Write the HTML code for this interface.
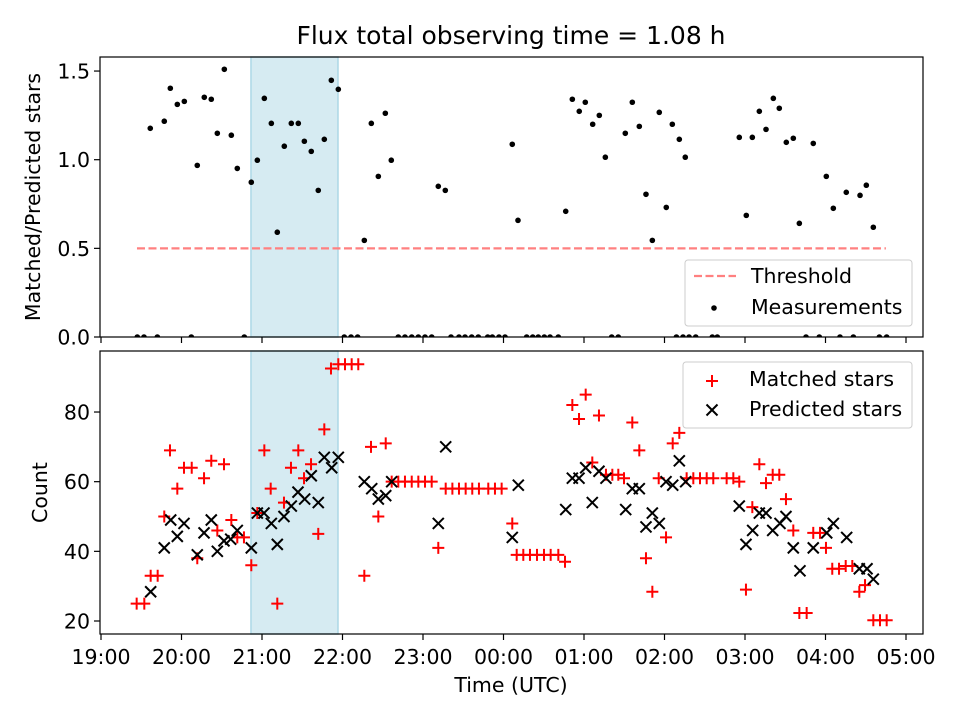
<!DOCTYPE html>
<html><head><meta charset="utf-8"><style>
body{margin:0;background:#fff;}
svg{display:block;font-family:"DejaVu Sans","Liberation Sans",sans-serif;}
</style></head><body>
<svg id="chart" width="960" height="720" viewBox="0 0 960 720" xmlns="http://www.w3.org/2000/svg">
<defs>
<clipPath id="clipTop"><rect x="100" y="57" width="823" height="280"/></clipPath>
<clipPath id="clipBot"><rect x="100" y="351" width="823" height="283"/></clipPath>
</defs>
<rect width="960" height="720" fill="#fff"/>
<text x="511" y="44" font-size="25" text-anchor="middle">Flux total observing time = 1.08 h</text>
<g id="topPanel"></g>
<g id="botPanel"></g>
</svg>
<script>
// hours since 19:00 UTC
const xTickLabels = ["19:00","20:00","21:00","22:00","23:00","00:00","01:00","02:00","03:00","04:00","05:00"];
const topTicks = [0,0.5,1.0,1.5];
const topTickLabels = ["0.0","0.5","1.0","1.5"];
const botTicks = [20,40,60,80];
const shadeSpan = [1.863,2.944];
const thresholdValue = 0.5;
const thresholdSpan = [0.447,9.75];
const ratioTimes = [0.612,0.786,0.861,0.948,1.035,1.196,1.283,1.370,1.445,1.532,1.619,1.693,1.867,1.942,2.029,2.116,2.190,2.277,2.364,2.451,2.526,2.612,2.699,2.774,2.861,2.948,3.271,3.358,3.445,3.532,3.606,4.190,4.277,5.109,5.180,5.773,5.855,5.941,6.016,6.108,6.190,6.265,6.513,6.600,6.687,6.770,6.849,6.935,7.022,7.097,7.184,7.258,7.929,8.016,8.091,8.178,8.261,8.352,8.426,8.513,8.600,8.675,8.848,9.010,9.097,9.258,9.429,9.507,9.594];
const ratioValues = [1.177,1.217,1.403,1.312,1.329,0.968,1.352,1.341,1.149,1.51,1.138,0.951,0.873,0.997,1.346,1.205,0.591,1.076,1.205,1.205,1.104,1.047,0.827,1.115,1.448,1.397,0.545,1.205,0.906,1.262,0.997,0.85,0.827,1.087,0.658,0.709,1.341,1.273,1.324,1.2,1.25,1.014,1.149,1.324,1.188,0.805,0.545,1.267,0.731,1.2,1.115,1.014,1.126,0.686,1.126,1.273,1.171,1.346,1.29,1.098,1.121,0.641,1.092,0.906,0.726,0.816,0.799,0.856,0.619];
const zeroTimes = [0.451,0.534,0.700,1.122,1.780,3.022,3.106,3.188,3.693,3.776,3.860,3.942,4.025,4.108,4.348,4.447,4.522,4.605,4.687,4.804,4.861,4.944,5.019,5.288,5.363,5.432,5.507,5.578,5.681,6.344,6.426,7.148,7.230,7.305,7.388,7.594,7.656,8.758,8.923,9.180,9.346,9.669,9.760];
const matchedTimes = [0.443,0.538,0.617,0.704,0.786,0.857,0.948,1.031,1.127,1.196,1.280,1.370,1.445,1.528,1.619,1.693,1.776,1.867,1.942,2.029,2.108,2.190,2.273,2.360,2.451,2.522,2.609,2.699,2.774,2.857,2.948,3.031,3.114,3.196,3.271,3.354,3.445,3.537,3.611,3.693,3.776,3.860,3.942,4.025,4.108,4.190,4.282,4.365,4.447,4.530,4.612,4.695,4.811,4.894,4.977,5.109,5.164,5.246,5.329,5.416,5.503,5.586,5.681,5.764,5.855,5.938,6.021,6.103,6.186,6.273,6.352,6.426,6.497,6.600,6.687,6.770,6.849,6.928,7.019,7.102,7.184,7.275,7.358,7.441,7.524,7.606,7.772,7.855,7.929,8.012,8.091,8.178,8.261,8.344,8.426,8.509,8.600,8.675,8.766,8.848,8.932,9.006,9.084,9.168,9.251,9.333,9.420,9.491,9.594,9.677,9.760];
const matchedValues = [25,25,33,33,50,69,58,64,64,38,61,66,46,65,49,44,44,36,51,69,58,25,54,64,69,61,65,45,75,92.5,93.7,93.7,93.7,93.7,33,70,50,71,60,60,60,60,60,60,60,41,58,58,58,58,58,58,58,58,58,48,39,39,39,39,39,39,39,37,82,78,85,65.5,79,62,62,62,61,77,69,38,28.4,61,44,71,74,61,61,61,61,61,61,61,60,29,52.7,65,59.6,62,62,55,46,22.3,22.3,45.3,45.3,41,35,35,35.8,35.8,28.4,30.3,20.2,20.2,20.2];
const predictedTimes = [0.617,0.786,0.866,0.948,1.031,1.196,1.280,1.370,1.445,1.528,1.611,1.693,1.867,1.942,2.025,2.116,2.190,2.273,2.364,2.447,2.530,2.612,2.699,2.774,2.866,2.948,3.271,3.363,3.445,3.537,3.611,4.190,4.282,5.109,5.184,5.773,5.855,5.938,6.021,6.103,6.186,6.273,6.518,6.600,6.687,6.770,6.849,6.935,7.019,7.102,7.184,7.263,7.929,8.012,8.095,8.178,8.261,8.344,8.435,8.509,8.600,8.683,8.848,9.015,9.098,9.263,9.420,9.516,9.594];
const predictedValues = [28.4,41,49,44.3,48,39,45.3,49,40,43,43.5,46,41,51,51,48,42,50,53,57,55,61.7,54,67,64,67,60,58,55,56,60,48,70,44,59,52,61,61,64,54,63,61,52,58,58,47,51,48,60,59,66,60,53,42,46,51,51,46,48,50,41,34.4,41,45.3,48,44,35,35,32];

const NS="http://www.w3.org/2000/svg";
const AX_L=100,AX_R=923;
const FS=20.5;
const xs=h=>101+h*80.5;
const yTop=v=>337-v*177.3;
const yBot=v=>621-(v-20)*3.483;
function mk(tag,attrs,parent){const e=document.createElementNS(NS,tag);for(const k in attrs)e.setAttribute(k,attrs[k]);parent.appendChild(e);return e;}
const topG=document.getElementById('topPanel'), botG=document.getElementById('botPanel');

function panel(g,y0,y1,clip,yFn,ticks,labels,title,labelX,titleX){
  const sh=mk('rect',{x:xs(shadeSpan[0]),y:y0,width:xs(shadeSpan[1])-xs(shadeSpan[0]),height:y1-y0,fill:'#add8e6','fill-opacity':0.5,stroke:'#add8e6','stroke-width':1.5},g);
  
  
  const marks=mk('g',{'clip-path':'url(#'+clip+')'},g);
  
  
  const frame=mk('rect',{x:AX_L,y:y0,width:AX_R-AX_L,height:y1-y0,fill:'none',stroke:'#000','stroke-width':1.2},g);
  
  
  xTickLabels.forEach((lab,i)=>{
    const x=xs(i);
    const t=mk('line',{x1:x,x2:x,y1:y1,y2:y1+6,stroke:'#000','stroke-width':1.2},g);
    
    
    if(labelX){const tx=mk('text',{x:x,y:y1+30,'font-size':FS,'text-anchor':'middle'},g);tx.textContent=lab;
      
      }
  });
  ticks.forEach((v,i)=>{
    const y=yFn(v);
    const t=mk('line',{x1:AX_L-6,x2:AX_L,y1:y,y2:y,stroke:'#000','stroke-width':1.2},g);
    
    
    const tx=mk('text',{x:AX_L-10,y:y+7.5,'font-size':FS,'text-anchor':'end'},g);tx.textContent=labels[i];
    
    
  });
  const cy=(y0+y1)/2;
  const yt=mk('text',{x:0,y:0,'font-size':FS,'text-anchor':'middle',transform:`translate(${titleX},${cy}) rotate(-90)`},g);
  yt.textContent=title;
  
  
  return marks;
}
const mt=panel(topG,57,337,'clipTop',yTop,topTicks,topTickLabels,'Matched/Predicted stars',false,40);
const mb=panel(botG,351,634,'clipBot',yBot,botTicks,botTicks.map(String),'Count',true,47);

const th=mk('line',{x1:xs(thresholdSpan[0]),x2:xs(thresholdSpan[1]),y1:yTop(thresholdValue),y2:yTop(thresholdValue),stroke:'#ff8080','stroke-width':2.2,'stroke-dasharray':'8,3.5'},mt);


ratioTimes.forEach((h,i)=>{const c=mk('circle',{cx:xs(h),cy:yTop(ratioValues[i]),r:2.8,fill:'#000'},mt);
  
  });
zeroTimes.forEach(h=>{const c=mk('circle',{cx:xs(h),cy:yTop(0),r:2.8,fill:'#000'},mt);
  
  });

function plus(g,x,y,s){return mk('path',{d:`M${x-s},${y}H${x+s}M${x},${y-s}V${y+s}`,stroke:'#ff0000','stroke-width':2,fill:'none'},g);}
function cross(g,x,y,s){return mk('path',{d:`M${x-s},${y-s}L${x+s},${y+s}M${x-s},${y+s}L${x+s},${y-s}`,stroke:'#000','stroke-width':2,fill:'none'},g);}
matchedTimes.forEach((h,i)=>{const p=plus(mb,xs(h),yBot(matchedValues[i]),6);
  
  });
predictedTimes.forEach((h,i)=>{const p=cross(mb,xs(h),yBot(predictedValues[i]),5.5);
  
  });

const xt=mk('text',{x:511,y:692,'font-size':FS,'text-anchor':'middle'},botG);xt.textContent='Time (UTC)';



const lg1=mk('g',{},topG);


mk('rect',{x:685,y:260,width:227,height:66,rx:3,fill:'#fff','fill-opacity':0.8,stroke:'#ccc'},lg1);
const l1=mk('line',{x1:694,x2:736,y1:276,y2:276,stroke:'#ff8080','stroke-width':2.2,'stroke-dasharray':'8,3.5'},lg1);


let t1=mk('text',{x:751,y:283,'font-size':FS},lg1);t1.textContent='Threshold';


mk('circle',{cx:714,cy:308,r:2.8,fill:'#000'},lg1);
let t2=mk('text',{x:751,y:314,'font-size':FS},lg1);t2.textContent='Measurements';



const lg2=mk('g',{},botG);


mk('rect',{x:683,y:362,width:229,height:66,rx:3,fill:'#fff','fill-opacity':0.8,stroke:'#ccc'},lg2);
plus(lg2,712,381,6);
let t3=mk('text',{x:749,y:386,'font-size':FS},lg2);t3.textContent='Matched stars';


cross(lg2,712,410,5.5);
let t4=mk('text',{x:749,y:416,'font-size':FS},lg2);t4.textContent='Predicted stars';


</script>
</body></html>
